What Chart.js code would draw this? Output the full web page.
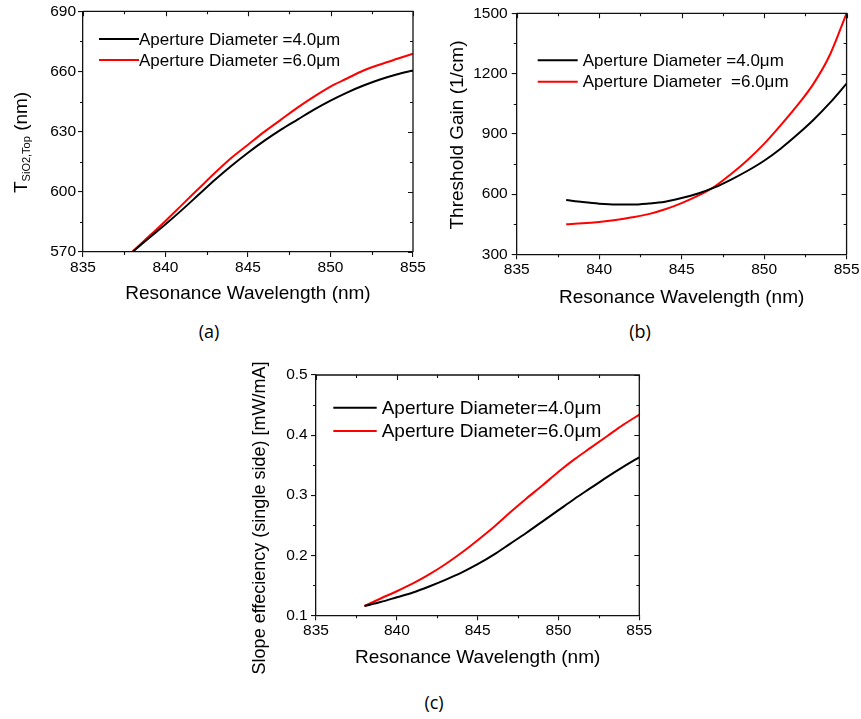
<!DOCTYPE html>
<html><head><meta charset="utf-8">
<script src="https://cdn.jsdelivr.net/npm/chart.js@4"></script>
<style>
html,body{margin:0;padding:0;background:#fff;width:861px;height:719px;overflow:hidden;position:relative}
canvas{position:absolute}
.cap{position:absolute;font-family:"Open Sans",sans-serif;font-size:18px;color:#000;transform:translate(-50%,-50%);white-space:nowrap}
</style></head><body>
<canvas id="ca" width="430" height="310" style="left:0;top:0;width:430px;height:310px"></canvas>
<canvas id="cb" width="431" height="310" style="left:430px;top:0;width:431px;height:310px"></canvas>
<canvas id="cc" width="420" height="320" style="left:240px;top:360px;width:420px;height:320px"></canvas>
<div class="cap" style="left:209px;top:331px">(a)</div>
<div class="cap" style="left:640px;top:331px">(b)</div>
<div class="cap" style="left:434px;top:702px">(c)</div>
<script>
// ---------- data ----------
const wavelength = [838, 839, 840, 841, 842, 843, 844, 845, 846, 847, 848, 849, 850, 851, 852, 853, 854, 855];
const tsio2_d4 = [570, 577, 583.8, 591, 598.5, 606, 613, 619.5, 625.5, 631, 636, 641, 645.5, 649.5, 653, 656, 658.5, 660.5];
const tsio2_d6 = [570.3, 577.8, 585.5, 593.5, 601.5, 609.5, 617, 623.5, 630, 636, 642, 647.5, 652.5, 656.5, 660.5, 663.5, 666.2, 668.8];
const gain_d4 = [570, 560, 552, 548, 548, 553, 562, 580, 603, 633, 672, 716, 766, 826, 895, 970, 1055, 1150];
const gain_d6 = [450, 454, 461, 471, 484, 500, 524, 555, 592, 637, 700, 770, 850, 942, 1040, 1150, 1295, 1500];
const slope_d4 = [0.1155, 0.122, 0.130, 0.138, 0.148, 0.159, 0.171, 0.185, 0.201, 0.219, 0.237, 0.256, 0.275, 0.294, 0.312, 0.330, 0.347, 0.363];
const slope_d6 = [0.1155, 0.128, 0.140, 0.153, 0.168, 0.185, 0.204, 0.225, 0.247, 0.271, 0.294, 0.316, 0.339, 0.360, 0.379, 0.398, 0.417, 0.434];
const xTicksA = [835, 840, 845, 850, 855];
const labelsA = ['Aperture Diameter =4.0\u03bcm', 'Aperture Diameter =6.0\u03bcm'];
const labelsB = ['Aperture Diameter =4.0\u03bcm', 'Aperture Diameter  =6.0\u03bcm'];
const labelsC = ['Aperture Diameter=4.0\u03bcm', 'Aperture Diameter=6.0\u03bcm'];
const xTitle = 'Resonance Wavelength (nm)';

const FAM = '"Liberation Sans", Arial, sans-serif';
const pts = (xs, ys) => xs.map((x, i) => ({x, y: ys[i]}));

// ---------- plugins ----------
const framePlugin = {
  id: 'frame',
  afterDraw(chart, args, o) {
    const {ctx, chartArea: a} = chart;
    const x = chart.scales.x, y = chart.scales.y;
    ctx.save();
    ctx.strokeStyle = '#111'; ctx.lineWidth = 1.3;
    ctx.beginPath();
    ctx.moveTo(a.left, a.top); ctx.lineTo(a.right, a.top); ctx.lineTo(a.right, a.bottom);
    ctx.stroke();
    ctx.lineWidth = 1.1;
    ctx.beginPath();
    const nx = Math.round((x.max - x.min) / (o.xStep / 2));
    for (let i = 0; i <= nx; i++) {
      const v = x.min + i * o.xStep / 2, px = Math.round(x.getPixelForValue(v)) + 0.5;
      const major = i % 2 === 0;
      if (!major) { ctx.moveTo(px, a.bottom); ctx.lineTo(px, a.bottom + 3); }
      ctx.moveTo(px, a.top); ctx.lineTo(px, a.top + (major ? 5 : 3));
    }
    const ny = Math.round((y.max - y.min) / (o.yStep / 2));
    for (let i = 0; i <= ny; i++) {
      const v = y.min + i * o.yStep / 2, py = Math.round(y.getPixelForValue(v)) + 0.5;
      const major = i % 2 === 0;
      if (!major) { ctx.moveTo(a.left, py); ctx.lineTo(a.left - 3, py); }
      ctx.moveTo(a.right, py); ctx.lineTo(a.right - (major ? 5 : 3), py);
    }
    ctx.stroke();
    ctx.restore();
  }
};
const legendPlugin = {
  id: 'inlegend',
  afterDraw(chart, args, o) {
    const ctx = chart.ctx;
    ctx.save();
    ctx.font = o.size + 'px ' + FAM;
    ctx.textBaseline = 'middle'; ctx.textAlign = 'left'; ctx.fillStyle = '#000';
    chart.data.datasets.forEach((ds, i) => {
      const yy = o.rows[i];
      ctx.strokeStyle = ds.borderColor; ctx.lineWidth = 2;
      ctx.beginPath(); ctx.moveTo(o.x0, yy); ctx.lineTo(o.x1, yy); ctx.stroke();
      ctx.fillText(ds.label, o.tx, yy + 1);
    });
    ctx.restore();
  }
};
const ytitlePlugin = {
  id: 'ytitle',
  afterDraw(chart, args, o) {
    const ctx = chart.ctx;
    ctx.save();
    ctx.fillStyle = '#000'; ctx.textAlign = 'left'; ctx.textBaseline = 'alphabetic';
    let total = 0;
    o.parts.forEach(p => { ctx.font = p.size + 'px ' + FAM; p.w = ctx.measureText(p.text).width; total += p.w; });
    ctx.translate(o.x, o.y);
    ctx.rotate(-Math.PI / 2);
    let cx = o.center ? -total / 2 : 0;
    o.parts.forEach(p => { ctx.font = p.size + 'px ' + FAM; ctx.fillText(p.text, cx, p.dy || 0); cx += p.w; });
    ctx.restore();
  }
};

function makeChart(id, d4, d6, labels, s) {
  new Chart(document.getElementById(id), {
    type: 'line',
    data: {
      datasets: [
        {label: labels[0], data: pts(wavelength, d4), borderColor: '#000000', borderWidth: 2, pointRadius: 0, cubicInterpolationMode: 'monotone'},
        {label: labels[1], data: pts(wavelength, d6), borderColor: '#ff0000', borderWidth: 2, pointRadius: 0, cubicInterpolationMode: 'monotone'}
      ]
    },
    options: {
      responsive: false, devicePixelRatio: 1, animation: false,
      layout: {padding: {left: 0, top: s.top, right: s.right, bottom: 0}},
      plugins: {
        legend: {display: false}, tooltip: {enabled: false},
        frame: {xStep: 5, yStep: s.yStep},
        inlegend: s.legend,
        ytitle: s.ytitle
      },
      scales: {
        x: {
          type: 'linear', min: 835, max: 855,
          afterBuildTicks: sc => { sc.ticks = xTicksA.map(v => ({value: v})); },
          afterFit: sc => { sc.height = s.xh; },
          ticks: {font: {size: 15.5, family: FAM}, color: '#000', padding: 1.5, maxRotation: 0},
          grid: {display: true, drawOnChartArea: false, drawTicks: true, tickLength: 5, color: '#111', lineWidth: 1.1},
          border: {display: true, color: '#111', width: 1.3},
          title: {display: true, text: xTitle, font: {size: 19, family: FAM}, color: '#000', padding: {top: 0, bottom: s.xtPad}}
        },
        y: {
          type: 'linear', min: s.yMin, max: s.yMax,
          afterBuildTicks: sc => { sc.ticks = s.yTicks.map(v => ({value: v})); },
          afterFit: sc => { sc.width = s.yw; },
          ticks: {font: {size: 15.5, family: FAM}, color: '#000', padding: s.ypad, callback: s.yfmt},
          grid: {display: true, drawOnChartArea: false, drawTicks: true, tickLength: 5, color: '#111', lineWidth: 1.1},
          border: {display: true, color: '#111', width: 1.3}
        }
      }
    },
    plugins: [framePlugin, legendPlugin, ytitlePlugin]
  });
}

const yTicksA = [570, 600, 630, 660, 690];
const yTicksB = [300, 600, 900, 1200, 1500];
const yTicksC = [0.1, 0.2, 0.3, 0.4, 0.5];

makeChart('ca', tsio2_d4, tsio2_d6, labelsA, {
  top: 9, right: 17, xh: 58, yw: 83, xtPad: 4.6, ypad: 2,
  yMin: 570, yMax: 690, yStep: 30, yTicks: yTicksA, yfmt: v => String(v),
  legend: {x0: 99, x1: 139, tx: 139, rows: [39, 60], size: 17},
  ytitle: {x: 27, y: 193, center: false, parts: [
    {text: 'T', size: 19}, {text: 'SiO2,Top', size: 11, dy: 3}, {text: ' (nm)', size: 19}]}
});
makeChart('cb', gain_d4, gain_d6, labelsB, {
  top: 10, right: 12.7, xh: 55.7, yw: 86.7, xtPad: 0.6, ypad: 4,
  yMin: 300, yMax: 1500, yStep: 300, yTicks: yTicksB, yfmt: v => String(v),
  legend: {x0: 107.7, x1: 147.7, tx: 152.7, rows: [60.3, 81.7], size: 17},
  ytitle: {x: 32.5, y: 135, center: true, parts: [{text: 'Threshold Gain (1/cm)', size: 19}]}
});
makeChart('cc', slope_d4, slope_d6, labelsC, {
  top: 15, right: 20.7, xh: 64.7, yw: 76, xtPad: 10.9, ypad: 3.3,
  yMin: 0.1, yMax: 0.5, yStep: 0.1, yTicks: yTicksC, yfmt: v => v.toFixed(1),
  legend: {x0: 93.3, x1: 136.7, tx: 141.7, rows: [47.7, 71], size: 19},
  ytitle: {x: 25, y: 158, center: true, parts: [{text: 'Slope effeciency (single side) [mW/mA]', size: 18}]}
});
</script>
</body></html>
